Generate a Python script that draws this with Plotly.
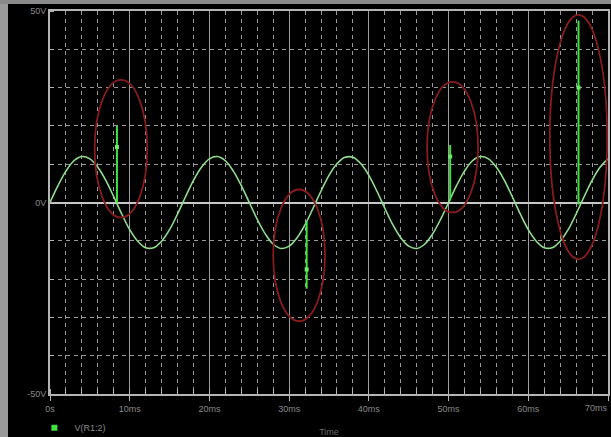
import plotly.graph_objects as go

# ---- data ----
time_ms = list(range(0, 71))
volts = [0, 4.4, 8.2, 10.9, 12.0, 11.4, 9.2, 5.8, 1.5, -3.0,
         -7.1, -10.1, -11.8, -11.8, -10.1, -7.1, -3.0, 1.5, 5.8, 9.2,
         11.4, 12.0, 10.9, 8.2, 4.4, 0, -4.4, -8.2, -10.9, -12.0,
         -11.4, -9.2, -5.8, -1.5, 3.0, 7.1, 10.1, 11.8, 11.8, 10.1,
         7.1, 3.0, -1.5, -5.8, -9.2, -11.4, -12.0, -10.9, -8.2, -4.4,
         0, 4.4, 8.2, 10.9, 12.0, 11.4, 9.2, 5.8, 1.5, -3.0,
         -7.1, -10.1, -11.8, -11.8, -10.1, -7.1, -3.0, 1.5, 5.8, 9.2,
         11.4]

spike_t = [8.4, 32.2, 50.2, 66.3]
spike_base = [0.0, -5.0, 0.5, -0.5]
spike_tip = [20.0, -22.5, 15.0, 47.5]
spike_mark = [14.5, -17.5, 12.0, 30.0]

# highlight ellipses (ms, V): x0, x1, y0, y1
ellipses = [(5.6, 12.2, -3.9, 32.0),
            (28.0, 34.5, -31.0, 3.4),
            (47.3, 53.7, -2.6, 31.5),
            (62.7, 69.9, -14.8, 49.0)]

x_ticks = [0, 10, 20, 30, 40, 50, 60, 70]
x_tick_text = ["0s", "10ms", "20ms", "30ms", "40ms", "50ms", "60ms", "70ms"]
y_ticks = [-50, 0, 50]
y_tick_text = ["-50V", "0V", "50V"]
series_name = "V(R1:2)"

# ---- figure ----
fig = go.Figure()
fig.add_trace(go.Scatter(x=time_ms, y=volts, mode="lines",
                         line=dict(color="#8EE08E", width=1.6, shape="spline"),
                         showlegend=False, hoverinfo="skip"))
sx, sy = [], []
for t, b, tp in zip(spike_t, spike_base, spike_tip):
    sx += [t, t, None]
    sy += [b, tp, None]
fig.add_trace(go.Scatter(x=sx, y=sy, mode="lines",
                         line=dict(color="#3FE03F", width=2),
                         showlegend=False, hoverinfo="skip"))
fig.add_trace(go.Scatter(x=spike_t, y=spike_mark, mode="markers",
                         marker=dict(color="#6FE86F", size=4, symbol="square"),
                         showlegend=False, hoverinfo="skip"))
# legend entry
fig.add_trace(go.Scatter(x=[None], y=[None], mode="markers", name=series_name,
                         marker=dict(color="#3FE03F", size=6, symbol="square")))

shapes = []
for (x0, x1, y0, y1) in ellipses:
    shapes.append(dict(type="circle", xref="x", yref="y", x0=x0, x1=x1, y0=y0, y1=y1,
                       line=dict(color="#861C1C", width=1.8)))
# window frame strips
shapes.append(dict(type="rect", xref="paper", yref="paper", x0=-50/558, x1=-42/558,
                   y0=-43/383, y1=1.03, fillcolor="#9a9a9a", line=dict(width=0), layer="above"))
shapes.append(dict(type="rect", xref="paper", yref="paper", x0=-50/558, x1=1.01,
                   y0=1.018, y1=1.03, fillcolor="#8a8a8a", line=dict(width=0), layer="above"))

# last tick label drawn right-aligned so it stays inside the window
annotations = [dict(x=x_ticks[-1], xref="x", y=-14/383, yref="paper",
                    text=x_tick_text[-1], showarrow=False, xanchor="right",
                    yanchor="middle", xshift=2,
                    font=dict(size=9, color="#8a8a8a"))]

fig.update_layout(
    width=611, height=437,
    margin=dict(l=50, r=3, t=11, b=43, autoexpand=False),
    paper_bgcolor="black", plot_bgcolor="black",
    font=dict(family="Liberation Sans, Arial, sans-serif", size=9, color="#8a8a8a"),
    shapes=shapes, annotations=annotations,
    showlegend=True,
    legend=dict(x=-0.028, y=-0.05, xanchor="left", yanchor="top", orientation="h",
                bgcolor="rgba(0,0,0,0)", font=dict(size=9, color="#8a8a8a"),
                itemwidth=30),
)
fig.update_xaxes(
    range=[0, 70], tickvals=x_ticks, ticktext=x_tick_text[:-1] + [""], automargin=False,
    ticklabeloverflow="allow",
    showgrid=True, gridcolor="#9c9c9c", gridwidth=1,
    showline=True, linecolor="#b4b4b4", linewidth=2, mirror=True,
    ticks="outside", ticklen=5, tickcolor="#b4b4b4",
    zeroline=False,
    minor=dict(dtick=2, showgrid=True, gridcolor="#9a9a9a", griddash="4px,4px",
               ticks="inside", ticklen=5, tickcolor="#b4b4b4"),
    title=dict(text="Time", font=dict(size=9, color="#6a6a6a"), standoff=16),
)
fig.update_yaxes(
    range=[-50, 50], tickvals=y_ticks, ticktext=y_tick_text, automargin=False,
    ticklabeloverflow="allow",
    showgrid=False,
    showline=True, linecolor="#b4b4b4", linewidth=2, mirror=True,
    ticks="", zeroline=True, zerolinecolor="#c8c8c8", zerolinewidth=2,
    minor=dict(dtick=10, showgrid=True, gridcolor="#9a9a9a", griddash="4px,4px",
               ticks="inside", ticklen=4, tickcolor="#b4b4b4"),
)

fig.write_html("out.html", config={"displayModeBar": False},
               post_script="document.body.style.margin='0';document.body.style.background='black';")
